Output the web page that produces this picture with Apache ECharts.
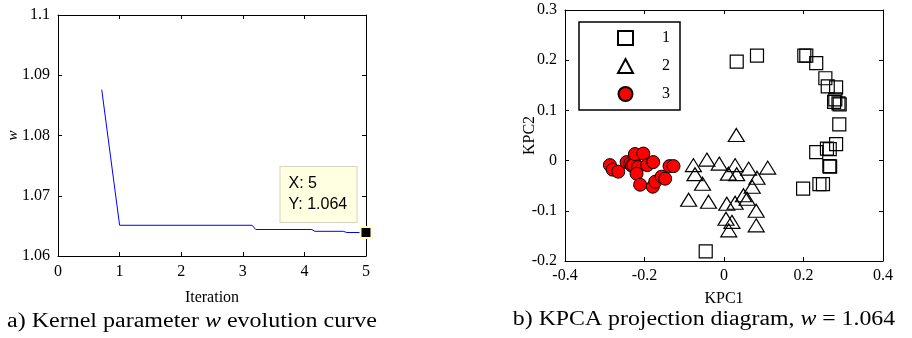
<!DOCTYPE html>
<html><head><meta charset="utf-8">
<script src="https://cdn.jsdelivr.net/npm/echarts@6/dist/echarts.min.js"></script>
<style>html,body{margin:0;padding:0;background:#fff}#c{width:912px;height:338px}</style>
</head><body><div id="c"></div>
<script>
// Left chart: kernel parameter evolution
const iterX = [0.71, 1, 3.15, 3.21, 4.12, 4.17, 4.63, 4.69, 5];
const wVals = [1.0876, 1.0651, 1.0651, 1.0644, 1.0644, 1.0641, 1.0641, 1.0639, 1.0639];
const iterTicks = [0, 1, 2, 3, 4, 5];
const wTicks = [1.06, 1.07, 1.08, 1.09, 1.1];

// Right chart: KPCA projection classes
const class1 = [[0.032,0.197],[0.083,0.209],[0.202,0.209],[0.207,0.209],[0.232,0.194],[0.255,0.164],[0.261,0.148],[0.282,0.146],[0.280,0.122],[0.277,0.117],[0.288,0.114],[0.291,0.112],[0.290,0.072],[0.282,0.033],[0.259,0.024],[0.266,0.023],[0.232,0.017],[0.265,-0.011],[0.267,-0.012],[0.240,-0.047],[0.249,-0.047],[0.199,-0.056],[-0.046,-0.181]];
const class2 = [[0.031,0.051],[-0.077,-0.009],[-0.043,0.002],[-0.012,-0.006],[0.028,-0.009],[0.062,-0.016],[0.110,-0.014],[0.011,-0.026],[0.032,-0.027],[-0.073,-0.027],[-0.054,-0.046],[0.083,-0.034],[0.071,-0.052],[0.049,-0.069],[0.058,-0.076],[-0.089,-0.078],[-0.039,-0.082],[0.007,-0.086],[0.028,-0.084],[0.081,-0.100],[0.005,-0.116],[0.020,-0.122],[0.081,-0.129],[0.012,-0.139]];
const class3 = [[-0.287,-0.009],[-0.280,-0.018],[-0.266,-0.022],[-0.245,-0.003],[-0.236,-0.006],[-0.232,-0.010],[-0.226,-0.004],[-0.228,-0.009],[-0.224,0.013],[-0.203,0.014],[-0.216,-0.013],[-0.220,-0.026],[-0.193,-0.009],[-0.178,-0.003],[-0.211,-0.048],[-0.179,-0.052],[-0.173,-0.042],[-0.157,-0.032],[-0.148,-0.036],[-0.137,-0.011],[-0.127,-0.011]];
const classNames = ['1', '2', '3'];
const kpc1Ticks = [-0.4, -0.2, 0, 0.2, 0.4];
const kpc2Ticks = [-0.2, -0.1, 0, 0.1, 0.2, 0.3];
const captions = ['a) Kernel parameter {i|w} evolution curve', 'b) KPCA projection diagram, {i|w} = 1.064'];

const serif = 'Liberation Serif';
const lineSeries = iterX.map((x, i) => [x, wVals[i]]);
const lastX = iterX[iterX.length - 1], lastY = wVals[wVals.length - 1];

function mkAxis(o) {
  return Object.assign({
    nameMoveOverlap: false,
    axisLine: {show: true, onZero: false, lineStyle: {color: '#000', width: 1}},
    axisTick: {show: true, inside: true, length: 4, lineStyle: {color: '#000'}},
    splitLine: {show: false},
    axisLabel: {show: true, color: '#000', fontFamily: serif, fontSize: 16, margin: 8},
    nameTextStyle: {color: '#000', fontFamily: serif, fontSize: 16}
  }, o);
}
function hidden(o) {
  const a = mkAxis(o);
  a.axisLabel = {show: false};
  return a;
}
const fmt1 = v => String(+v.toFixed(2));
const capStyle = t => ({
  text: t, font: '20px "Liberation Serif"', fill: '#000', align: 'center', verticalAlign: 'middle',
  rich: {i: {fontFamily: serif, fontStyle: 'italic', fontSize: 20, fill: '#000'}}
});

const chart = echarts.init(document.getElementById('c'), null, {renderer: 'canvas'});
chart.setOption({
  animation: false,
  backgroundColor: '#fff',
  graphic: [
    {type: 'text', x: 192, y: 322, scaleX: 1.2, style: capStyle(captions[0])},
    {type: 'text', x: 704, y: 320, scaleX: 1.19, style: capStyle(captions[1])}
  ],
  grid: [
    {left: 58, top: 15, width: 308, height: 241},
    {left: 565, top: 10, width: 318, height: 251}
  ],
  legend: {
    data: classNames, orient: 'vertical', left: 579, top: 22,
    width: 99, height: 84,
    borderColor: '#000', borderWidth: 1.5, backgroundColor: '#fff',
    padding: [8, 10, 8, 38], itemGap: 12, itemWidth: 15, itemHeight: 14,
    textStyle: {fontFamily: serif, fontSize: 16, color: '#000', padding: [0, 0, 0, 24]},
    selectedMode: false
  },
  xAxis: [
    mkAxis({gridIndex: 0, type: 'value', min: iterTicks[0], max: iterTicks[iterTicks.length-1], interval: 1,
      name: 'Iteration', nameLocation: 'middle', nameGap: 34}),
    hidden({gridIndex: 0, type: 'value', position: 'top', min: iterTicks[0], max: iterTicks[iterTicks.length-1], interval: 1}),
    mkAxis({gridIndex: 1, type: 'value', min: kpc1Ticks[0], max: kpc1Ticks[kpc1Ticks.length-1], interval: 0.2,
      name: 'KPC1', nameLocation: 'middle', nameGap: 30, axisLabel: {color: '#000', fontFamily: serif, fontSize: 16, margin: 7, formatter: fmt1}}),
    hidden({gridIndex: 1, type: 'value', position: 'top', min: kpc1Ticks[0], max: kpc1Ticks[kpc1Ticks.length-1], interval: 0.2})
  ],
  yAxis: [
    mkAxis({gridIndex: 0, type: 'value', min: wTicks[0], max: wTicks[wTicks.length-1], interval: 0.01,
      name: 'w', nameLocation: 'middle', nameGap: 37, nameRotate: 90,
      nameTextStyle: {color: '#000', fontFamily: serif, fontSize: 15, fontStyle: 'italic'},
      axisLabel: {color: '#000', fontFamily: serif, fontSize: 16, margin: 8, formatter: fmt1}}),
    hidden({gridIndex: 0, type: 'value', position: 'right', min: wTicks[0], max: wTicks[wTicks.length-1], interval: 0.01}),
    mkAxis({gridIndex: 1, type: 'value', min: kpc2Ticks[0], max: kpc2Ticks[kpc2Ticks.length-1], interval: 0.1,
      name: 'KPC2', nameLocation: 'middle', nameGap: 27, nameRotate: 90,
      axisLabel: {color: '#000', fontFamily: serif, fontSize: 16, margin: 8, formatter: fmt1}}),
    hidden({gridIndex: 1, type: 'value', position: 'right', min: kpc2Ticks[0], max: kpc2Ticks[kpc2Ticks.length-1], interval: 0.1})
  ],
  series: [
    {type: 'line', xAxisIndex: 0, yAxisIndex: 0, data: lineSeries, showSymbol: false, symbol: 'none',
     lineStyle: {color: '#0000ff', width: 1}, z: 2,
     markPoint: {
       symbol: 'rect', symbolSize: 11,
       itemStyle: {color: '#000', borderColor: '#ffffcc', borderWidth: 2},
       data: [{coord: [lastX, lastY], value: lastY}],
       label: {show: true, position: [-79, -59],
         formatter: () => 'X: ' + lastX + '\nY: ' + lastY.toFixed(3),
         fontFamily: 'Liberation Sans', fontSize: 16, color: '#000', lineHeight: 21,
         backgroundColor: '#ffffe1', borderColor: '#d4d4c0', borderWidth: 1,
         padding: [6, 6, 7, 8], align: 'left', verticalAlign: 'top', width: 62}
     }},
    {type: 'scatter', name: classNames[0], xAxisIndex: 2, yAxisIndex: 2, data: class1,
     symbol: 'rect', symbolSize: 13,
     itemStyle: {color: 'rgba(255,255,255,0)', borderColor: '#000', borderWidth: 1.2, opacity: 1}},
    {type: 'scatter', name: classNames[1], xAxisIndex: 2, yAxisIndex: 2, data: class2,
     symbol: 'triangle', symbolSize: [16, 13],
     itemStyle: {color: 'rgba(255,255,255,0)', borderColor: '#000', borderWidth: 1.2, opacity: 1}},
    {type: 'scatter', name: classNames[2], xAxisIndex: 2, yAxisIndex: 2, data: class3,
     symbol: 'circle', symbolSize: 13,
     itemStyle: {color: '#ff0000', borderColor: '#000', borderWidth: 1, opacity: 1}}
  ]
});
</script></body></html>
